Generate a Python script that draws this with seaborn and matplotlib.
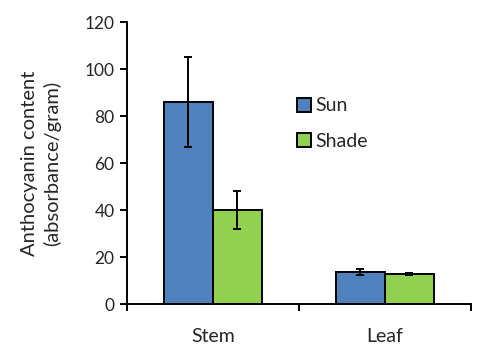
import matplotlib
matplotlib.use("Agg")
import matplotlib.pyplot as plt
import seaborn as sns
import pandas as pd
import numpy as np
from matplotlib.ticker import FixedLocator, NullFormatter

# Anthocyanin content by tissue and light condition
tissues = ["Stem", "Leaf"]
conditions = ["Sun", "Shade"]
sun_means = [86, 13.7]
shade_means = [40, 12.9]
sun_err = [19, 1.4]
shade_err = [8, 0.5]

df = pd.DataFrame({
    "tissue": tissues * 2,
    "condition": [conditions[0]] * 2 + [conditions[1]] * 2,
    "value": sun_means + shade_means,
    "err": sun_err + shade_err,
})

sns.set_style("white")
plt.rcParams["font.family"] = ["Lato", "DejaVu Sans"]

fig = plt.figure(figsize=(4.81, 3.5), dpi=100)
ax = fig.add_axes([0.264, 0.131, 0.715, 0.806])

palette = {"Sun": "#4F81BD", "Shade": "#92D050"}
sns.barplot(data=df, x="tissue", y="value", hue="condition", order=tissues,
            hue_order=conditions, palette=palette, width=0.57, saturation=1,
            edgecolor="black", linewidth=1.4, errorbar=None, ax=ax)

# Error bars centered on each bar
for cont, cond in zip(ax.containers, conditions):
    sub = df[df["condition"] == cond].set_index("tissue").loc[tissues]
    xs = [p.get_x() + p.get_width() / 2 for p in cont.patches]
    ax.errorbar(xs, sub["value"], yerr=sub["err"], fmt="none", ecolor="black",
                elinewidth=1.4, capsize=2.6, capthick=1.4, zorder=5)

ax.set_ylim(0, 120)
ax.set_xlim(-0.5, 1.5)
ax.set_yticks(np.arange(0, 121, 20))
ax.tick_params(axis="y", direction="out", length=5, width=1.4, color="black",
               labelsize=12.5, pad=4, left=True)

# Group boundary ticks on x, labels on category centers
ax.xaxis.set_major_locator(FixedLocator([-0.5, 0.5, 1.5]))
ax.xaxis.set_major_formatter(NullFormatter())
ax.xaxis.set_minor_locator(FixedLocator([0, 1]))
ax.set_xticklabels(tissues, minor=True)
ax.tick_params(axis="x", which="major", direction="out", length=5, width=1.4,
               color="black", bottom=True)
ax.tick_params(axis="x", which="minor", length=0, labelsize=14, pad=17)

for s in ["top", "right"]:
    ax.spines[s].set_visible(False)
for s in ["left", "bottom"]:
    ax.spines[s].set_color("black")
    ax.spines[s].set_linewidth(1.4)

ax.set_xlabel("")
ax.set_ylabel("Anthocyanin content\n(absorbance/gram)", fontsize=14.5, labelpad=17,
              linespacing=1.3)

handles, labels = ax.get_legend_handles_labels()
ax.legend(handles, labels, loc="center left", bbox_to_anchor=(0.443, 0.64),
          frameon=False, fontsize=14, handlelength=0.72, handleheight=0.72,
          handletextpad=0.25, labelspacing=0.95)

fig.savefig("out.png", dpi=100)
